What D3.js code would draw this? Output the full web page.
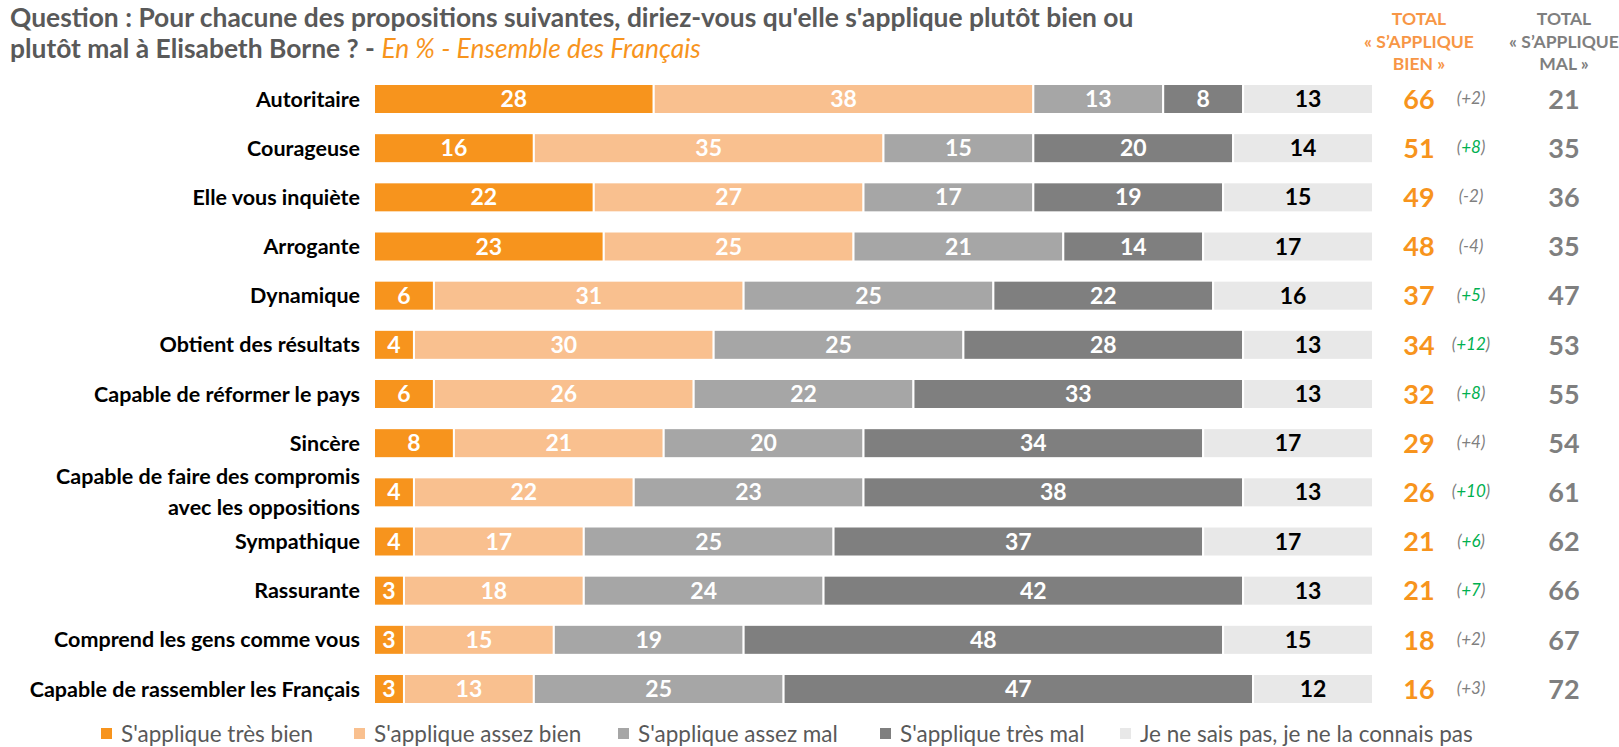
<!DOCTYPE html>
<html>
<head>
<meta charset="utf-8">
<title>Elisabeth Borne - image</title>
<script src="https://cdnjs.cloudflare.com/ajax/libs/d3/7.8.5/d3.min.js"></script>
<style>
  body { margin: 0; background: #fff; }
  svg { font-family: Lato, "Open Sans", sans-serif; }
  .title { font-size: 26.4px; font-weight: bold; fill: #595959; }
  .subtitle { font-style: italic; font-weight: normal; fill: #F7941D; }
  .rowlabel { font-size: 21.5px; font-weight: bold; fill: #000; text-anchor: end; }
  .seglabel { font-size: 23px; font-weight: bold; text-anchor: middle; }
  .head { font-size: 17.5px; font-weight: bold; text-anchor: middle; }
  .total { font-size: 27px; font-weight: bold; text-anchor: middle; }
  .evol { font-size: 17px; font-style: italic; text-anchor: middle; }
  .legend text { font-size: 22.5px; fill: #595959; }
</style>
</head>
<body>
<svg id="chart" width="1619" height="747"></svg>
<script>

// items, top to bottom
var items = [
  "Autoritaire", "Courageuse", "Elle vous inquiète", "Arrogante", "Dynamique",
  "Obtient des résultats", "Capable de réformer le pays", "Sincère",
  "Capable de faire des compromis|avec les oppositions", "Sympathique",
  "Rassurante", "Comprend les gens comme vous", "Capable de rassembler les Français"
];

var tresBien  = [28, 16, 22, 23,  6,  4,  6,  8,  4,  4,  3,  3,  3];
var assezBien = [38, 35, 27, 25, 31, 30, 26, 21, 22, 17, 18, 15, 13];
var assezMal  = [13, 15, 17, 21, 25, 25, 22, 20, 23, 25, 24, 19, 25];
var tresMal   = [ 8, 20, 19, 14, 22, 28, 33, 34, 38, 37, 42, 48, 47];
var nsp       = [13, 14, 15, 17, 16, 13, 13, 17, 13, 17, 13, 15, 12];

var totalBien = [66, 51, 49, 48, 37, 34, 32, 29, 26, 21, 21, 18, 16];
var evolution = ["+2", "+8", "-2", "-4", "+5", "+12", "+8", "+4", "+10", "+6", "+7", "+2", "+3"];
var evolGreen = [false, true, false, false, true, true, true, false, true, true, true, false, false];
var totalMal  = [21, 35, 36, 35, 47, 53, 55, 54, 61, 62, 66, 67, 72];

var seriesNames = ["S'applique très bien", "S'applique assez bien", "S'applique assez mal",
                   "S'applique très mal", "Je ne sais pas, je ne la connais pas"];
var colors = ["#F7941D", "#F9C08F", "#A6A6A6", "#7F7F7F", "#E8E8E8"];
var labelColors = ["#fff", "#fff", "#fff", "#fff", "#000"];

var svg = d3.select("svg");

var x = d3.scaleLinear().domain([0, 100]).range([374, 1373]);
var y = d3.scalePoint().domain(items).range([99, 689]);
var barH = 30;

// title
svg.append("text").attr("class", "title").attr("x", 10).attr("y", 27)
  .text("Question : Pour chacune des propositions suivantes, diriez-vous qu'elle s'applique plutôt bien ou");
var t2 = svg.append("text").attr("class", "title").attr("x", 10).attr("y", 58);
t2.append("tspan").text("plutôt mal à Elisabeth Borne ? - ");
t2.append("tspan").attr("class", "subtitle").text("En % - Ensemble des Français");

// column headers
var headBien = ["TOTAL", "« S’APPLIQUE", "BIEN »"];
var headMal = ["TOTAL", "« S’APPLIQUE", "MAL »"];
[[headBien, 1419, "#F79646"], [headMal, 1564, "#7F7F7F"]].forEach(function(h) {
  svg.append("g").selectAll("text")
    .data(h[0])
    .enter().append("text")
    .attr("class", "head")
    .attr("x", h[1])
    .attr("y", function(d, i) { return 25 + i * 22.5; })
    .style("fill", h[2])
    .text(function(d) { return d; });
});

// stack
var table = items.map(function(it, i) {
  return {item: it, s0: tresBien[i], s1: assezBien[i], s2: assezMal[i], s3: tresMal[i], s4: nsp[i]};
});
var stack = d3.stack().keys(["s0", "s1", "s2", "s3", "s4"])(table);

var layer = svg.append("g").selectAll("g")
  .data(stack)
  .enter().append("g")
  .attr("fill", function(d, i) { return colors[i]; });

layer.selectAll("rect")
  .data(function(d) { return d; })
  .enter().append("rect")
  .attr("x", function(d) { return x(d[0]); })
  .attr("y", function(d) { return y(d.data.item) - barH / 2; })
  .attr("width", function(d) { return x(d[1]) - x(d[0]); })
  .attr("height", barH)
  .attr("stroke", "#fff")
  .attr("stroke-width", 2);

layer.selectAll("text")
  .data(function(d, i) { return d.map(function(p) { return {p: p, k: i}; }); })
  .enter().append("text")
  .attr("class", "seglabel")
  .attr("x", function(d) { return (x(d.p[0]) + x(d.p[1])) / 2; })
  .attr("y", function(d) { return y(d.p.data.item); })
  .attr("dy", "0.35em")
  .style("fill", function(d) { return labelColors[d.k]; })
  .text(function(d) { return d.p[1] - d.p[0]; });

// row labels
var rl = svg.append("g").selectAll("text")
  .data(items)
  .enter().append("text")
  .attr("class", "rowlabel")
  .attr("x", 360)
  .attr("y", function(d) { return y(d); });
rl.each(function(d) {
  var parts = d.split("|");
  var el = d3.select(this);
  parts.forEach(function(p, j) {
    el.append("tspan")
      .attr("x", 360)
      .attr("dy", j === 0 ? (parts.length > 1 ? "-0.4em" : "0.35em") : "1.45em")
      .text(p);
  });
});

// totals
svg.append("g").selectAll("text")
  .data(totalBien)
  .enter().append("text")
  .attr("class", "total")
  .attr("x", 1419)
  .attr("y", function(d, i) { return y(items[i]); })
  .attr("dy", "0.36em")
  .style("fill", "#F7941D")
  .text(function(d) { return d; });

svg.append("g").selectAll("text")
  .data(evolution)
  .enter().append("text")
  .attr("class", "evol")
  .attr("x", 1471)
  .attr("y", function(d, i) { return y(items[i]); })
  .attr("dy", "0.3em")
  .style("fill", "#7F7F7F")
  .each(function(d, i) {
    var el = d3.select(this);
    el.append("tspan").text("(");
    el.append("tspan").style("fill", evolGreen[i] ? "#00B050" : "#7F7F7F").text(d);
    el.append("tspan").text(")");
  });

svg.append("g").selectAll("text")
  .data(totalMal)
  .enter().append("text")
  .attr("class", "total")
  .attr("x", 1564)
  .attr("y", function(d, i) { return y(items[i]); })
  .attr("dy", "0.36em")
  .style("fill", "#7F7F7F")
  .text(function(d) { return d; });

// legend
var legendX = [101, 354, 618, 880, 1120];
var legend = svg.append("g").attr("class", "legend").selectAll("g")
  .data(seriesNames)
  .enter().append("g")
  .attr("transform", function(d, i) { return "translate(" + legendX[i] + ",734)"; });

legend.append("rect")
  .attr("x", 0)
  .attr("y", -6)
  .attr("width", 11)
  .attr("height", 11)
  .style("fill", function(d, i) { return colors[i]; });

legend.append("text")
  .attr("x", 20)
  .attr("dy", "0.35em")
  .text(function(d) { return d; });

</script>
</body>
</html>
